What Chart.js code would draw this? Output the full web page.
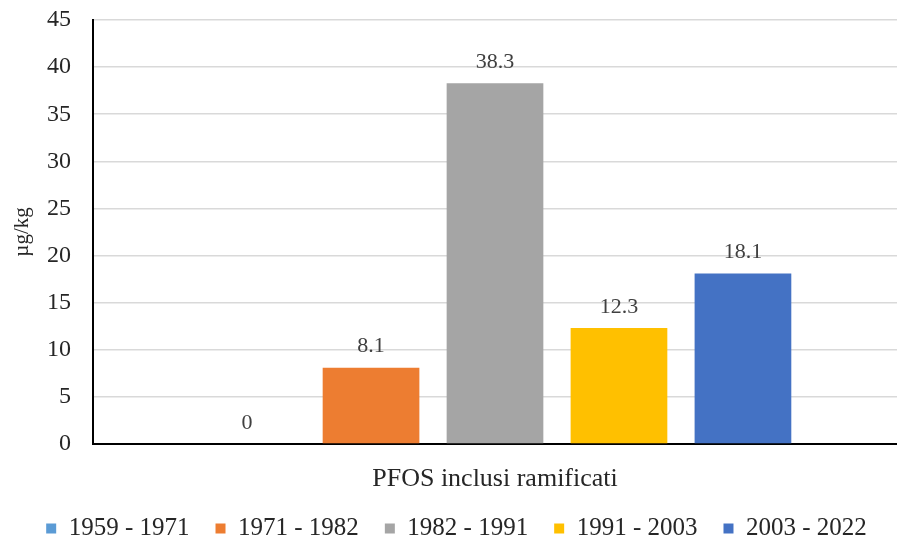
<!DOCTYPE html>
<html>
<head>
<meta charset="utf-8">
<script src="https://cdn.jsdelivr.net/npm/chart.js@4.4.1/dist/chart.umd.min.js"></script>
<style>
    html, body { margin: 0; padding: 0; background: #ffffff; }
    #wrap { width: 897px; height: 542px; }
</style>
</head>
<body>
<div id="wrap"><canvas id="myChart" width="897" height="542"></canvas></div>
<script>
// Chart data
const categories = ['PFOS inclusi ramificati'];
const periods = ['1959 - 1971', '1971 - 1982', '1982 - 1991', '1991 - 2003', '2003 - 2022'];
const values = [0, 8.1, 38.3, 12.3, 18.1];
const colors = ['#5B9BD5', '#ED7D31', '#A5A5A5', '#FFC000', '#4472C4'];
const yTicks = [0, 5, 10, 15, 20, 25, 30, 35, 40, 45];

const serif = "'Liberation Serif', 'Times New Roman', serif";

// Draws the value above each bar
const valueLabels = {
    id: 'valueLabels',
    afterDatasetsDraw(chart) {
        const ctx = chart.ctx;
        ctx.save();
        ctx.font = '22px ' + serif;
        ctx.fillStyle = '#404040';
        ctx.textAlign = 'center';
        ctx.textBaseline = 'bottom';
        chart.data.datasets.forEach((ds, i) => {
            const meta = chart.getDatasetMeta(i);
            meta.data.forEach((bar, j) => {
                ctx.fillText(String(ds.data[j]), bar.x, bar.y - 10);
            });
        });
        ctx.restore();
    }
};

// Fixed legend height so the plot bottom lands where the reference has it,
// and a small nudge to the right like the original
const legendHeight = {
    id: 'legendHeight',
    beforeInit(chart) {
        const fit = chart.legend.fit;
        chart.legend.fit = function() {
            fit.bind(chart.legend)();
            this.height = 50;
        };
    },
    afterLayout(chart) {
        chart.legend.left += 7;
        chart.legend.right += 7;
    }
};

const datasets = periods.map((p, i) => ({
    label: p,
    data: [values[i]],
    backgroundColor: colors[i],
    borderWidth: 0,
    categoryPercentage: 0.771,
    barPercentage: 0.78
}));

new Chart(document.getElementById('myChart'), {
    type: 'bar',
    data: { labels: categories, datasets: datasets },
    plugins: [valueLabels, legendHeight],
    options: {
        responsive: false,
        animation: false,
        layout: { padding: { top: 0, right: 0, left: 2, bottom: 2 } },
        plugins: {
            tooltip: { enabled: false },
            legend: {
                position: 'bottom',
                labels: {
                    font: { family: serif, size: 25 },
                    color: '#262626',
                    boxWidth: 10,
                    boxHeight: 10,
                    padding: 26
                }
            }
        },
        scales: {
            x: {
                grid: { display: false },
                border: { color: '#000000', width: 2 },
                ticks: { font: { family: serif, size: 26 }, color: '#262626', padding: 12 },
                afterFit: function(scale) { scale.height = 46; }
            },
            y: {
                min: 0,
                max: 45,
                afterBuildTicks: function(scale) { scale.ticks = yTicks.map(v => ({ value: v })); },
                grid: { color: '#d9d9d9', lineWidth: 1.5, drawTicks: false },
                border: { color: '#000000', width: 2 },
                ticks: { font: { family: serif, size: 24 }, color: '#262626', padding: 22 },
                title: { display: true, text: 'µg/kg', font: { family: serif, size: 21 }, color: '#262626', padding: { top: 8, bottom: 0 } },
                afterFit: function(scale) {
                    scale.width = 91;
                    scale.paddingTop = 20;
                    scale.paddingBottom = 0;
                }
            }
        }
    }
});
</script>
</body>
</html>
